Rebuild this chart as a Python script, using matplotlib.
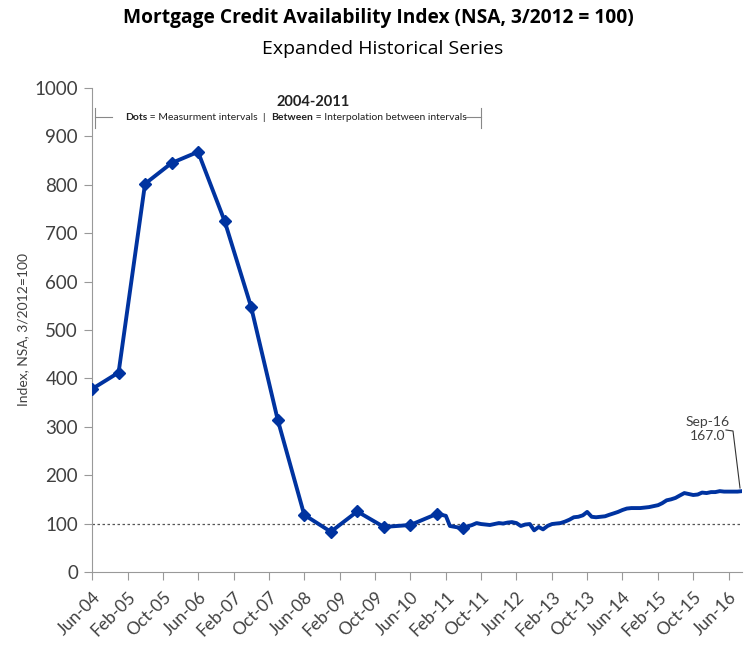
import numpy as np
import pandas as pd
import matplotlib
matplotlib.use("Agg")
from matplotlib import pyplot as plt
import matplotlib.dates as mdates
from matplotlib.offsetbox import TextArea, HPacker, AnnotationBbox

# semiannual measurement points 2004-2011 (dots)
dot_dates = ['2004-06', '2004-12', '2005-06', '2005-12', '2006-06', '2006-12',
             '2007-06', '2007-12', '2008-06', '2008-12', '2009-06', '2009-12',
             '2010-06', '2010-12', '2011-06']
dot_vals = [378, 412, 802, 845, 868, 725, 548, 315, 118, 83, 125, 93, 97, 120, 90]

# extra points between Dec-10 and Jun-11
mid_dates = ['2011-02', '2011-03']
mid_vals = [116, 95]

# monthly series Jul-11 .. Sep-16
monthly_vals = [94, 97, 101, 99, 98, 97,
                99, 101, 100, 102, 103, 101, 95, 98, 99, 86, 93, 88,
                95, 99, 100, 101, 104, 108, 113, 114, 117, 124, 114, 113,
                114, 115, 118, 121, 124, 128, 131, 132, 132, 132, 133, 134,
                136, 138, 142, 148, 150, 153, 158, 163, 161, 159, 160, 164,
                163, 165, 165, 167, 166, 166, 166, 166, 167]
monthly_dates = pd.date_range('2011-07-01', periods=len(monthly_vals), freq='MS')

tick_dates = pd.date_range('2004-06-01', '2016-06-01', freq='8MS')

blue = '#0033a0'
grey = '#404040'

dots_x = pd.to_datetime(dot_dates)
all_x = list(dots_x[:-1]) + list(pd.to_datetime(mid_dates)) + [dots_x[-1]] + list(monthly_dates)
all_y = dot_vals[:-1] + mid_vals + [dot_vals[-1]] + monthly_vals

fig = plt.figure(figsize=(7.45, 6.47), dpi=100)
ax = fig.add_axes([0.1235, 0.116, 0.8725, 0.748])

ax.plot(all_x, all_y, color=blue, lw=2.8, solid_joinstyle='round', zorder=3)
ax.plot(dots_x, dot_vals, 'D', color=blue, ms=6.5, zorder=4)
ax.axhline(100, color='#555555', lw=0.9, ls=(0, (2, 2)), zorder=2)

ax.set_ylim(0, 1000)
ax.set_yticks(np.arange(0, 1001, 100))
ax.set_xlim(pd.Timestamp('2004-06-01'), pd.Timestamp('2016-09-01'))
ax.set_xticks(tick_dates)
ax.xaxis.set_major_formatter(mdates.DateFormatter('%b-%y'))

for s in ['top', 'right']:
    ax.spines[s].set_visible(False)
for s in ['left', 'bottom']:
    ax.spines[s].set_color('#999999')
ax.tick_params(axis='y', colors='#999999', labelcolor=grey, labelsize=13.5, length=6, pad=4)
ax.tick_params(axis='x', colors='#999999', labelcolor=grey, labelsize=12.5, length=6, pad=6)
for lab in ax.get_yticklabels():
    lab.set_family('Lato')
for lab in ax.get_xticklabels():
    lab.set_family('Lato')
    lab.set_rotation(45)
    lab.set_ha('right')
    lab.set_rotation_mode('anchor')

ax.set_ylabel('Index, NSA, 3/2012=100', fontsize=10, color=grey, family='Lato', labelpad=4)

fig.text(0.508, 0.972, 'Mortgage Credit Availability Index (NSA, 3/2012 = 100)',
         ha='center', va='center', fontsize=13.8, fontweight='bold', family='Open Sans')
fig.text(0.513, 0.924, 'Expanded Historical Series', ha='center', va='center',
         fontsize=14, family='Open Sans')

# 2004-2011 note
fig.text(0.42, 0.842, '2004-2011', ha='center', va='center', fontsize=10.5,
         family='Lato', fontweight='bold', color='#222222')
parts = [TextArea('Dots', textprops=dict(fontsize=7.5, fontweight='bold', family='Lato', color='#222222')),
         TextArea(' = Measurment intervals  |  ', textprops=dict(fontsize=7.5, family='Lato', color='#222222')),
         TextArea('Between', textprops=dict(fontsize=7.5, fontweight='bold', family='Lato', color='#222222')),
         TextArea(' = Interpolation between intervals', textprops=dict(fontsize=7.5, family='Lato', color='#222222'))]
box = HPacker(children=parts, pad=0, sep=0)
ab = AnnotationBbox(box, (0.397, 0.819), xycoords='figure fraction', frameon=False, box_alignment=(0.5, 0.5))
fig.add_artist(ab)
lc = '#888888'
fig.add_artist(plt.Line2D([95/745, 95/745], [1-108/647, 1-128/647], color=lc, lw=0.8))
fig.add_artist(plt.Line2D([95/745, 112/745], [1-117/647, 1-117/647], color=lc, lw=0.8))
fig.add_artist(plt.Line2D([465/745, 481/745], [1-117/647, 1-117/647], color=lc, lw=0.8))
fig.add_artist(plt.Line2D([481/745, 481/745], [1-108/647, 1-128/647], color=lc, lw=0.8))

# last value callout
last_x = monthly_dates[-1]
ax.annotate('Sep-16\n167.0', xy=(last_x, monthly_vals[-1]), xytext=(-25, 45),
            textcoords='offset points', ha='center', va='center', fontsize=10,
            family='Lato', color=grey, linespacing=1.2, annotation_clip=False)
fig.add_artist(plt.Line2D([726/745, 733/745, 740/745], [1-430/647, 1-431/647, 1-488/647], color='#333333', lw=0.8))

fig.savefig('out.png', dpi=100)
